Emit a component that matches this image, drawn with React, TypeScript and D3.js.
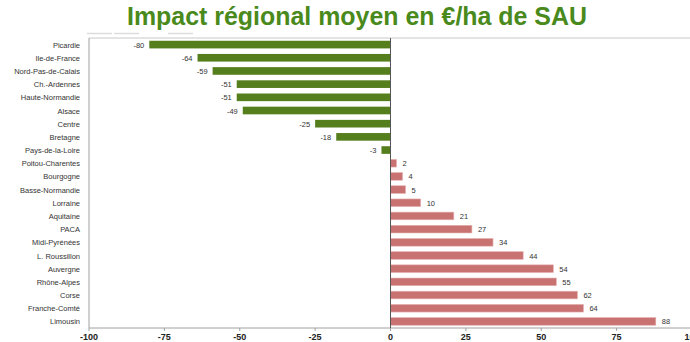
import React from "react";
import * as d3 from "d3";

const regions = [
  "Picardie", "Ile-de-France", "Nord-Pas-de-Calais", "Ch.-Ardennes", "Haute-Normandie",
  "Alsace", "Centre", "Bretagne", "Pays-de-la-Loire", "Poitou-Charentes", "Bourgogne",
  "Basse-Normandie", "Lorraine", "Aquitaine", "PACA", "Midi-Pyrénées", "L. Roussillon",
  "Auvergne", "Rhône-Alpes", "Corse", "Franche-Comté", "Limousin",
];
const impacts = [-80, -64, -59, -51, -51, -49, -25, -18, -3, 2, 4, 5, 10, 21, 27, 34, 44, 54, 55, 62, 64, 88];
const xTicks = [-100, -75, -50, -25, 0, 25, 50, 75, 100];
const title = "Impact régional moyen en €/ha de SAU";

export default function App() {
  const W = 690, H = 342;
  const left = 89, right = 692, top = 38, bottom = 328;
  const x = d3.scaleLinear().domain([-100, 100]).range([left, right]);
  const y = d3.scaleBand<string>().domain(regions).range([top, bottom]).paddingInner(0.42).paddingOuter(0.21);
  const font = "'Liberation Sans', Arial, sans-serif";
  return (
    <svg width={W} height={H} style={{ position: "absolute", left: 0, top: 0, background: "#fff" }}>
      <text x={357} y={25} textAnchor="middle" fontFamily={font} fontWeight="bold" fontSize={25} fill="#4a8a1c" textLength={460} lengthAdjust="spacingAndGlyphs">{title}</text>
      <g stroke="#dcdcdc" strokeWidth={1.5}>
        <line x1={87} x2={112} y1={33.5} y2={33.5} />
        <line x1={114} x2={139} y1={33.5} y2={33.5} />
        <line x1={168} x2={193} y1={33.5} y2={33.5} />
      </g>
      <line x1={left} x2={W} y1={top} y2={top} stroke="#c8c8c8" strokeWidth={1} />
      <line x1={left} x2={left} y1={top} y2={bottom} stroke="#a0a0a0" strokeWidth={1} />
      <line x1={left} x2={W} y1={bottom} y2={bottom} stroke="#a0a0a0" strokeWidth={1} />
      {xTicks.map((t) => (
        <g key={t}>
          <line x1={x(t)} x2={x(t)} y1={bottom} y2={bottom + 3} stroke="#a0a0a0" />
          <text x={x(t)} y={340} textAnchor="middle" fontFamily={font} fontWeight="bold" fontSize={9} fill="#222">{t}</text>
        </g>
      ))}
      {regions.map((r, i) => {
        const v = impacts[i];
        const y0 = y(r)!;
        const bh = y.bandwidth();
        const neg = v < 0;
        return (
          <g key={r}>
            <text x={80} y={y0 + bh / 2 + 3} textAnchor="end" fontFamily={font} fontSize={7.5} fill="#333">{r}</text>
            <rect x={Math.min(x(0), x(v))} y={y0} width={Math.abs(x(v) - x(0))} height={bh}
              fill={neg ? "#557f1d" : "#c87272"} stroke={neg ? "none" : "#e6b0b0"} strokeWidth={0.6} />
            <text x={neg ? x(v) - 5 : x(v) + 6} y={y0 + bh / 2 + 3} textAnchor={neg ? "end" : "start"} fontFamily={font} fontSize={7.5} fill="#333">{v}</text>
          </g>
        );
      })}
      <line x1={x(0)} x2={x(0)} y1={top} y2={bottom} stroke="#555" strokeWidth={1} />
    </svg>
  );
}
